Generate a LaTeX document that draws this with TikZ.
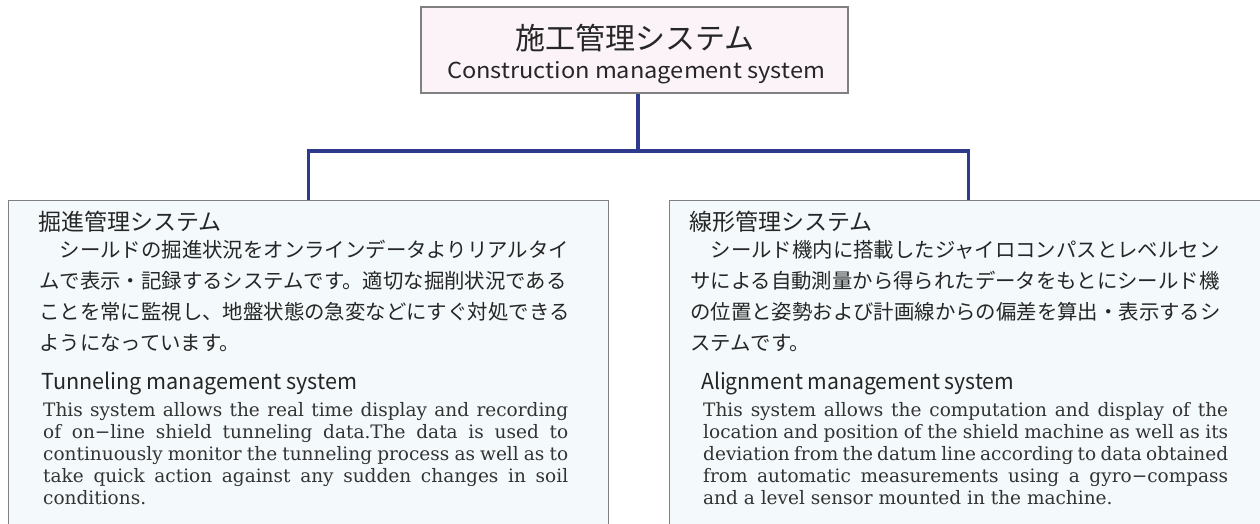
\documentclass[tikz,border=0pt]{standalone}
\usepackage{fontspec}
\usepackage{graphicx}
\newfontfamily\jpfont{Noto Sans CJK JP}
\newfontfamily\enserif{DejaVu Serif}
\definecolor{txt}{HTML}{262626}
\definecolor{entxt}{HTML}{333333}
\definecolor{topfill}{HTML}{FCF3F8}
\definecolor{subfill}{HTML}{F4FAFC}
\definecolor{frame}{HTML}{808080}
\definecolor{conn}{HTML}{2E3B8C}
\newcommand\jline[1]{\makebox[525pt][s]{#1}}
\tikzset{
  topbox/.style={draw=frame, fill=topfill, line width=1.3pt, inner sep=0pt},
  subbox/.style={draw=frame, fill=subfill, line width=1.3pt, inner sep=0pt},
  connline/.style={draw=conn, line width=3.5pt, line join=miter},
  maintitle/.style={font={\jpfont\fontsize{30pt}{30pt}\selectfont}, text=txt, inner sep=0pt},
  subtitle/.style={font={\jpfont\fontsize{23pt}{23pt}\selectfont}, text=txt, inner sep=0pt, anchor=west},
  jpbody/.style={font={\jpfont\fontsize{20.4pt}{20.4pt}\selectfont}, text=txt, inner sep=0pt, anchor=west},
  sanslbl/.style={font={\jpfont\fontsize{22pt}{22pt}\selectfont}, text=txt, inner sep=0pt},
  enbody/.style={font={\enserif\fontsize{18.5pt}{22pt}\selectfont}, text=entxt, inner sep=0pt, anchor=base west},
}
\begin{document}
\begin{tikzpicture}[x=1pt,y=-1pt]
\useasboundingbox (0,0) rectangle (1260,524);
\begin{scope}
\clip (0,0) rectangle (1260,524);
% boxes
\node[topbox, minimum width=427pt, minimum height=86pt] (top) at (634.5,50) {};
\node[subbox, minimum width=600pt, minimum height=360pt, anchor=north west] (left) at (8,200) {};
\node[subbox, minimum width=598pt, minimum height=360pt, anchor=north west] (right) at (669,200) {};
% connectors
\coordinate (j) at (638,151);
\draw[connline] (top.south -| j) -- (j);
\draw[connline] (left.north) |- (j) -| (right.north);
% top texts
\node[maintitle] (tt) at (635,38) {施工管理システム};
\node[sanslbl] (te) at (636,73) {\resizebox{378pt}{\height}{Construction management system}};
% left box texts
\node[subtitle] (lt) at (38,222) {掘進管理システム};
\node[jpbody] (lj1) at (39,250) {　シールドの掘進状況をオンラインデータよりリアルタイ};
\node[jpbody] (lj2) at (39,281) {ムで表示・記録するシステムです。適切な掘削状況である};
\node[jpbody] (lj3) at (39,312) {ことを常に監視し、地盤状態の急変などにすぐ対処できる};
\node[jpbody] (lj4) at (39,343) {ようになっています。};
\node[sanslbl, anchor=west] (ls) at (41,383) {\resizebox{316pt}{\height}{Tunneling management system}};
\node[enbody] (le1) at (43,416) {\jline{This system allows the real time display and recording}};
\node[enbody] (le2) at (43,438) {\jline{of on−line shield tunneling data.The data is used to}};
\node[enbody] (le3) at (43,460) {\jline{continuously monitor the tunneling process as well as to}};
\node[enbody] (le4) at (43,482) {\jline{take quick action against any sudden changes in soil}};
\node[enbody] (le5) at (43,504) {conditions.};
% right box texts
\node[subtitle] (rt) at (689,222) {線形管理システム};
\node[jpbody] (rj1) at (690,250) {　シールド機内に搭載したジャイロコンパスとレベルセン};
\node[jpbody] (rj2) at (690,281) {サによる自動測量から得られたデータをもとにシールド機};
\node[jpbody] (rj3) at (690,312) {の位置と姿勢および計画線からの偏差を算出・表示するシ};
\node[jpbody] (rj4) at (690,343) {ステムです。};
\node[sanslbl, anchor=west] (rs) at (701,383) {\resizebox{313pt}{\height}{Alignment management system}};
\node[enbody] (re1) at (703,416) {\jline{This system allows the computation and display of the}};
\node[enbody] (re2) at (703,438) {\jline{location and position of the shield machine as well as its}};
\node[enbody] (re3) at (703,460) {\jline{deviation from the datum line according to data obtained}};
\node[enbody] (re4) at (703,482) {\jline{from automatic measurements using a gyro−compass}};
\node[enbody] (re5) at (703,504) {and a level sensor mounted in the machine.};
\end{scope}
\end{tikzpicture}
\end{document}
